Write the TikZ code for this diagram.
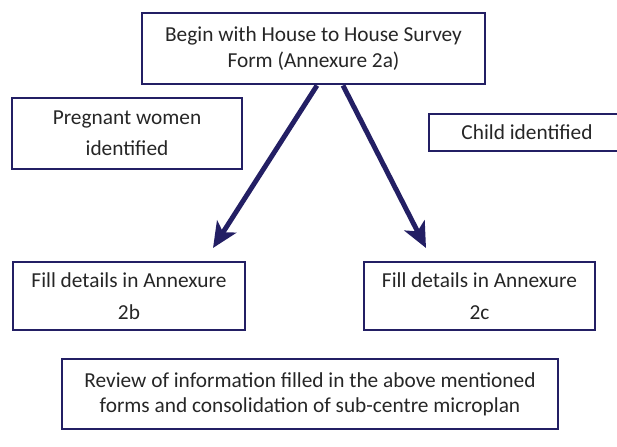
\documentclass[tikz,border=0pt]{standalone}
\usepackage{fontspec}
\setmainfont{Carlito}
\usetikzlibrary{arrows.meta}

\definecolor{navy}{RGB}{35,31,100}
\definecolor{ink}{RGB}{38,38,38}

\tikzset{
  box/.style={draw=navy, line width=2.2pt, inner sep=0pt, align=center,
              text=ink, font=\fontsize{16}{20}\selectfont},
  flow/.style={draw=navy, line width=3.7pt,
               -{Stealth[length=19pt, width=17pt, inset=5pt]}}
}

\begin{document}
\begin{tikzpicture}[x=0.75pt, y=-0.75pt]
  \useasboundingbox (0,0) rectangle (617,446);
  \clip (0,0) rectangle (617,446);

  % boxes
  \node[box, minimum width=343*0.75pt, minimum height=71*0.75pt] (survey) at (313.5,48.5)
       {Begin with House to House Survey\\[-1pt]Form (Annexure 2a)};
  \node[box, minimum width=230*0.75pt, minimum height=71*0.75pt] (pregnant) at (127,133.5)
       {Pregnant women\\[3pt]identified};
  \node[box, minimum width=196*0.75pt, minimum height=37*0.75pt] (child) at (527,132.5)
       {Child identified};
  \node[box, minimum width=232*0.75pt, minimum height=68*0.75pt] (annexb) at (129,296)
       {Fill details in Annexure\\[4pt]2b};
  \node[box, minimum width=231*0.75pt, minimum height=68*0.75pt] (annexc) at (479.5,296)
       {Fill details in Annexure\\[4pt]2c};
  \node[box, minimum width=496*0.75pt, minimum height=70*0.75pt] (review) at (310,394)
       {Review of information filled in the above mentioned\\[-1pt]forms and consolidation of sub-centre microplan};

  % arrow ends
  \coordinate (tipb) at (213,248);
  \coordinate (tipc) at (426,248);

  \draw[flow] ([xshift=3.5*0.75pt]survey.south) -- (tipb);
  \draw[flow] ([xshift=29.5*0.75pt]survey.south) -- (tipc);
\end{tikzpicture}
\end{document}
